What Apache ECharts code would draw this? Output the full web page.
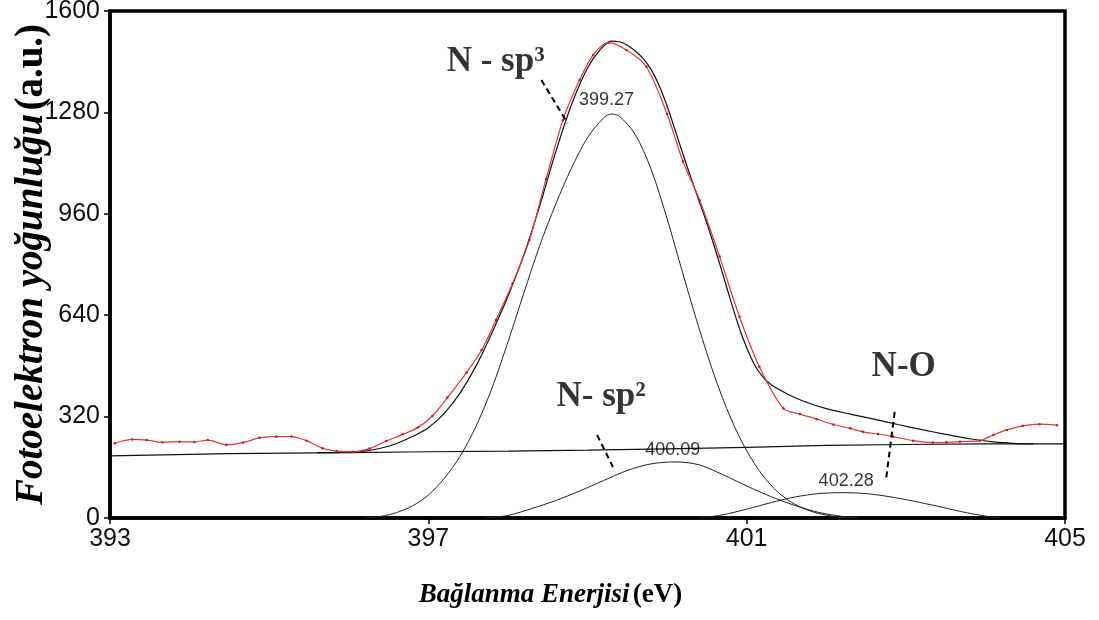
<!DOCTYPE html>
<html>
<head>
<meta charset="utf-8">
<script src="https://cdn.jsdelivr.net/npm/echarts@6/dist/echarts.min.js"></script>
<style>html,body{margin:0;padding:0;background:#fff}#c{width:1099px;height:620px}</style>
</head>
<body>
<div id="c"></div>
<script>
// ---- data ----
const xTicks = [393, 397, 401, 405];
const yTicks = [0, 320, 640, 960, 1280, 1600];

// measured spectrum (red)
const expE = [393.06,393.28,393.46,393.66,393.87,394.06,394.23,394.46,394.67,394.88,395.09,395.28,395.47,395.67,395.85,396.05,396.26,396.47,396.68,396.87,397.05,397.24,397.48,397.67,397.85,398.06,398.27,398.48,398.69,398.90,399.07,399.26,399.49,399.74,400.00,400.20,400.41,400.66,400.91,401.16,401.46,401.67,401.88,402.09,402.30,402.46,402.65,402.84,403.09,403.34,403.51,403.68,403.93,404.10,404.27,404.47,404.68,404.90];
const expI = [236,248,246,239,241,240,246,231,238,253,257,257,244,220,211,209,219,243,264,286,322,380,459,530,625,741,877,1070,1255,1382,1461,1500,1477,1424,1275,1125,1003,825,635,477,346,328,312,295,283,272,265,257,244,238,239,241,244,262,278,291,296,293];

// fitted envelope (black)
const envE = [395.6,395.9,396.2,396.4,396.6,396.8,397.0,397.2,397.4,397.6,397.8,398.0,398.2,398.4,398.6,398.8,399.0,399.15,399.3,399.4,399.5,399.6,399.7,399.8,399.9,400.0,400.1,400.2,400.3,400.4,400.5,400.6,400.7,400.8,400.9,401.0,401.1,401.2,401.3,401.5,401.7,402.0,402.3,402.6,402.9,403.2,403.5,403.8,404.1,404.4,404.6];
const envI = [206,207,211,220,235,257,285,330,395,480,585,700,830,985,1155,1305,1420,1475,1505,1503,1492,1474,1450,1415,1365,1300,1225,1148,1074,1002,930,852,770,685,605,537,483,446,422,393,370,345,328,312,295,279,264,250,240,235,234];

// component N-sp3 (399.27)
const c1E = [396.2,396.4,396.6,396.8,397.0,397.2,397.4,397.6,397.8,398.0,398.2,398.4,398.6,398.8,399.0,399.2,399.3,399.4,399.6,399.8,400.0,400.2,400.4,400.6,400.8,401.0,401.2,401.4,401.6,401.8,402.0,402.2,402.4];
const c1I = [0,5,17,38,72,125,195,290,410,555,710,860,990,1105,1200,1262,1275,1268,1210,1100,945,770,600,445,315,212,135,80,44,22,9,2,0];

// component N-sp2 (400.09)
const c2E = [397.7,398.0,398.3,398.6,398.9,399.2,399.5,399.8,400.1,400.4,400.7,401.0,401.3,401.6,401.9,402.2,402.4];
const c2I = [0,8,30,55,85,118,150,171,177,168,137,101,68,40,18,5,0];

// component N-O (402.28)
const c3E = [400.4,400.7,401.0,401.3,401.6,401.9,402.2,402.5,402.8,403.1,403.4,403.7,404.0,404.2];
const c3I = [0,10,28,48,66,77,80,77,67,53,37,20,6,0];

// background line
const bgE = [393,394.5,396,397,398,399,400,401,402,403,404,405];
const bgI = [196,203,206,209,211,214,218,223,229,232,234,234];

const zip = (a, b) => a.map((v, i) => [v, b[i]]);

// annotation anchors (data coordinates)
const peakLabels = [
  {text: '399.27', at: [399.24, 1319]},
  {text: '400.09', at: [400.07, 215]},
  {text: '402.28', at: [402.25, 117]}
];
const nameLabels = [
  {text: 'N - sp³', at: [397.23, 1439]},
  {text: 'N- sp²', at: [398.61, 382]},
  {text: 'N-O', at: [402.57, 477]}
];
const leaders = [
  [[398.42, 1382], [398.75, 1246]],
  [[399.12, 262], [399.32, 161]],
  [[402.86, 335], [402.75, 120]]
];

const serif = '"Liberation Serif","Times New Roman",serif';
const sans = '"Liberation Sans",Arial,sans-serif';

const lineSeries = (name, data, color, width, z) => ({
  name, type: 'line', data, smooth: 0.3, showSymbol: false, symbol: 'none',
  lineStyle: {color, width}, z: z || 2, silent: true
});

const series = [
  Object.assign(lineSeries('background', zip(bgE, bgI), '#111', 1.2, 2), {smooth: false}),
  lineSeries('N-sp3', zip(c1E, c1I), '#222', 1, 2),
  lineSeries('N-sp2', zip(c2E, c2I), '#222', 1, 2),
  lineSeries('N-O', zip(c3E, c3I), '#222', 1, 2),
  lineSeries('envelope', zip(envE, envI), '#111', 1.2, 3),
  {
    name: 'measured', type: 'line', data: zip(expE, expI), smooth: 0.3,
    symbol: 'circle', symbolSize: 2.5, showSymbol: true,
    itemStyle: {color: '#b82020'}, lineStyle: {color: '#e03434', width: 1.2}, z: 4, silent: true
  }
];

leaders.forEach(seg => series.push({
  type: 'line', data: seg, symbol: 'none', silent: true, z: 5,
  lineStyle: {color: '#000', width: 2, type: [6, 4]}
}));

series.push({
  type: 'scatter', symbolSize: 0, silent: true, z: 6,
  data: peakLabels.map(p => ({value: p.at, label: {formatter: p.text}})),
  label: {show: true, position: 'inside', align: 'center', verticalAlign: 'middle',
    fontFamily: sans, fontSize: 18, color: '#000'}
});
series.push({
  type: 'scatter', symbolSize: 0, silent: true, z: 6,
  data: nameLabels.map(p => ({value: p.at, label: {formatter: p.text}})),
  label: {show: true, position: 'inside', align: 'left', verticalAlign: 'middle',
    fontFamily: serif, fontWeight: 'bold', fontSize: 35, color: '#000'}
});

const chart = echarts.init(document.getElementById('c'), null, {renderer: 'canvas'});
chart.setOption({
  animation: false,
  backgroundColor: '#fff',
  grid: {left: 110, right: 34, top: 11, bottom: 102, containLabel: false, outerBoundsMode: 'none',
    show: true, borderColor: '#000', borderWidth: 3.5, backgroundColor: 'transparent'},
  xAxis: {
    type: 'value', min: 393, max: 405,
    name: '{i|Bağlanma Enerjisi} {n|(eV)}', nameLocation: 'middle', nameGap: 64, nameMoveOverlap: false,
    nameTextStyle: {padding: [0, 74, 0, 0], rich: {
      i: {fontFamily: serif, fontStyle: 'italic', fontWeight: 'bold', fontSize: 27, color: '#000'},
      n: {fontFamily: serif, fontWeight: 'bold', fontSize: 27, color: '#000'}}},
    axisLine: {show: true, lineStyle: {color: '#000', width: 3.5}},
    axisTick: {show: true, customValues: xTicks, length: 6, lineStyle: {color: '#000', width: 1.5}},
    axisLabel: {customValues: xTicks, fontFamily: sans, fontSize: 25, color: '#111', margin: 9},
    splitLine: {show: false}
  },
  yAxis: {
    type: 'value', min: 0, max: 1600, interval: 320,
    name: '{i|Fotoelektron yoğunluğu} {n|(a.u.)}', nameLocation: 'middle', nameGap: 59, nameRotate: 90,
    nameMoveOverlap: false,
    nameTextStyle: {rich: {
      i: {fontFamily: serif, fontStyle: 'italic', fontWeight: 'bold', fontSize: 39, color: '#000'},
      n: {fontFamily: serif, fontWeight: 'bold', fontSize: 39, color: '#000'}}},
    axisLine: {show: true, lineStyle: {color: '#000', width: 3.5}},
    axisTick: {show: true, length: 6, lineStyle: {color: '#000', width: 1.5}},
    axisLabel: {fontFamily: sans, fontSize: 25, color: '#111', margin: 10,
      formatter: v => yTicks.includes(v) ? String(v) : ''},
    splitLine: {show: false}
  },
  series
});
</script>
</body>
</html>
